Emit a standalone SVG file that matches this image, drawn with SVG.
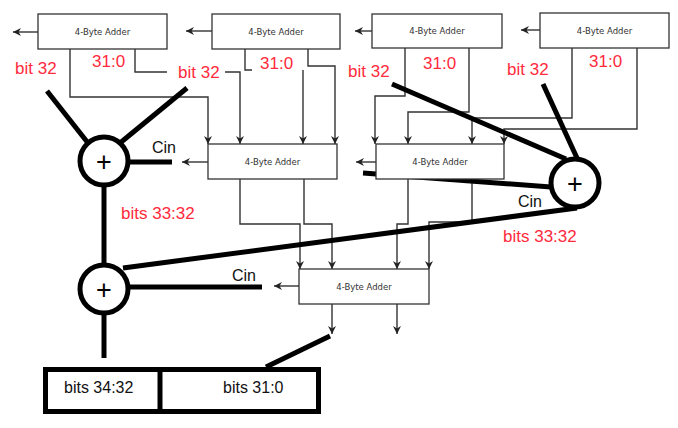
<svg xmlns="http://www.w3.org/2000/svg" width="678" height="428" viewBox="0 0 678 428">
<style>
.box{fill:#fff;stroke:#333;stroke-width:1.3}
.bt{font-family:"DejaVu Sans",sans-serif;font-size:8.5px;fill:#333;text-anchor:middle}
.w{fill:none;stroke:#333;stroke-width:1.4}
.thick{fill:none;stroke:#000;stroke-width:5}
.red{font-family:"Liberation Sans",Arial,sans-serif;font-size:17px;fill:#ff2a3c}
.blk{font-family:"Liberation Sans",Arial,sans-serif;font-size:16px;fill:#111}
.plus{font-family:"Liberation Sans",Arial,sans-serif;font-size:27px;fill:#000;text-anchor:middle}
</style>
<defs>
<marker id="ah" markerWidth="9" markerHeight="9" refX="8" refY="4.5" orient="auto" markerUnits="userSpaceOnUse">
<path d="M0,0.5 L8,4.5 L0,8.5 L2.5,4.5 z" fill="#222"/>
</marker>
</defs>
<rect width="678" height="428" fill="#fff"/>

<g id="connectors">
<!-- carry-out arrows -->
<path class="w" d="M38,32 H13" marker-end="url(#ah)"/>
<path class="w" d="M212,31 H186" marker-end="url(#ah)"/>
<path class="w" d="M372,31 H355" marker-end="url(#ah)"/>
<path class="w" d="M540,30 H521" marker-end="url(#ah)"/>
<path class="w" d="M208,162 H182" marker-end="url(#ah)"/>
<path class="w" d="M376,162 H356" marker-end="url(#ah)"/>
<path class="w" d="M299,286 H274" marker-end="url(#ah)"/>
<!-- top row to M1 -->
<path class="w" d="M70,49 V97 H208 V144" marker-end="url(#ah)"/>
<path class="w" d="M135,49 V72 H167"/>
<path class="w" d="M225,72 H240 V144" marker-end="url(#ah)"/>
<path class="w" d="M245,49 V70 H252"/>
<path class="w" d="M303,70 V144" marker-end="url(#ah)"/>
<path class="w" d="M308,49 V66 H335 V144" marker-end="url(#ah)"/>
<!-- top row to M2 -->
<path class="w" d="M405,48 V96 H375 V144" marker-end="url(#ah)"/>
<path class="w" d="M469,48 V112 H408 V144" marker-end="url(#ah)"/>
<path class="w" d="M572,48 V118 H472 V144" marker-end="url(#ah)"/>
<path class="w" d="M637,48 V129 H504 V144" marker-end="url(#ah)"/>
<!-- middle to bottom -->
<path class="w" d="M240,179 V224 H300 V269" marker-end="url(#ah)"/>
<path class="w" d="M304,179 V224 H332 V269" marker-end="url(#ah)"/>
<path class="w" d="M408,179 V224 H397 V269" marker-end="url(#ah)"/>
<path class="w" d="M472,179 V222 H429 V269" marker-end="url(#ah)"/>
<!-- bottom outputs -->
<path class="w" d="M332,304 V334" marker-end="url(#ah)"/>
<path class="w" d="M397,304 V334" marker-end="url(#ah)"/>
<!-- thick hand-drawn lines -->
<path class="thick" d="M47,91 L88,143"/>
<path class="thick" d="M187,88 L120,143"/>
<path class="thick" d="M128,162 H172"/>
<path class="thick" d="M104,185 V265"/>
<path class="thick" d="M392,84 L566,159"/>
<path class="thick" d="M543,84 L577,158"/>
<path class="thick" d="M363,173 L551,187"/>
<path class="thick" d="M123,268 L577,208"/>
<path class="thick" d="M128,287 H262"/>
<path class="thick" d="M104,313 V358"/>
<path class="thick" d="M330,336 L266,367"/>
</g>

<g id="adderA1"><rect class="box" x="38" y="14" width="129" height="35"/><text class="bt" x="102.5" y="34.5">4-Byte Adder</text></g>
<g id="adderA2"><rect class="box" x="212" y="14" width="128" height="35"/><text class="bt" x="276" y="34.5">4-Byte Adder</text></g>
<g id="adderA3"><rect class="box" x="372" y="14" width="130" height="34"/><text class="bt" x="437" y="34">4-Byte Adder</text></g>
<g id="adderA4"><rect class="box" x="540" y="13" width="129" height="35"/><text class="bt" x="604.5" y="33.5">4-Byte Adder</text></g>
<g id="adderM1"><rect class="box" x="208" y="144" width="129" height="35"/><text class="bt" x="272.5" y="164.5">4-Byte Adder</text></g>
<g id="adderM2"><rect class="box" x="376" y="144" width="128" height="35"/><text class="bt" x="440" y="164.5">4-Byte Adder</text></g>
<g id="adderB"><rect class="box" x="299" y="269" width="130" height="35"/><text class="bt" x="364" y="289.5">4-Byte Adder</text></g>

<g id="plus1"><circle cx="104" cy="161" r="24" fill="#fff" stroke="#000" stroke-width="5"/><text class="plus" x="104" y="170.5">+</text></g>
<g id="plus2"><circle cx="575" cy="183" r="24" fill="#fff" stroke="#000" stroke-width="5"/><text class="plus" x="575" y="192.5">+</text></g>
<g id="plus3"><circle cx="104" cy="289" r="24" fill="#fff" stroke="#000" stroke-width="5"/><text class="plus" x="104" y="298.5">+</text></g>

<g id="result">
<rect x="45.5" y="369.5" width="273" height="42" fill="#fff" stroke="#000" stroke-width="5"/>
<line x1="160" y1="369" x2="160" y2="412" stroke="#000" stroke-width="5"/>
<text class="blk" x="64" y="393" font-size="17">bits 34:32</text>
<text class="blk" x="223" y="393" font-size="17">bits 31:0</text>
</g>

<g id="labels">
<text class="red" x="15" y="74">bit 32</text>
<text class="red" x="92" y="67">31:0</text>
<text class="red" x="178" y="78">bit 32</text>
<text class="red" x="260" y="69">31:0</text>
<text class="red" x="348" y="77">bit 32</text>
<text class="red" x="423" y="69">31:0</text>
<text class="red" x="507" y="75">bit 32</text>
<text class="red" x="589" y="67">31:0</text>
<text class="blk" x="152" y="153">Cin</text>
<text class="blk" x="518" y="207">Cin</text>
<text class="blk" x="232" y="281">Cin</text>
<text class="red" x="121" y="219">bits 33:32</text>
<text class="red" x="503" y="242">bits 33:32</text>
</g>
</svg>
